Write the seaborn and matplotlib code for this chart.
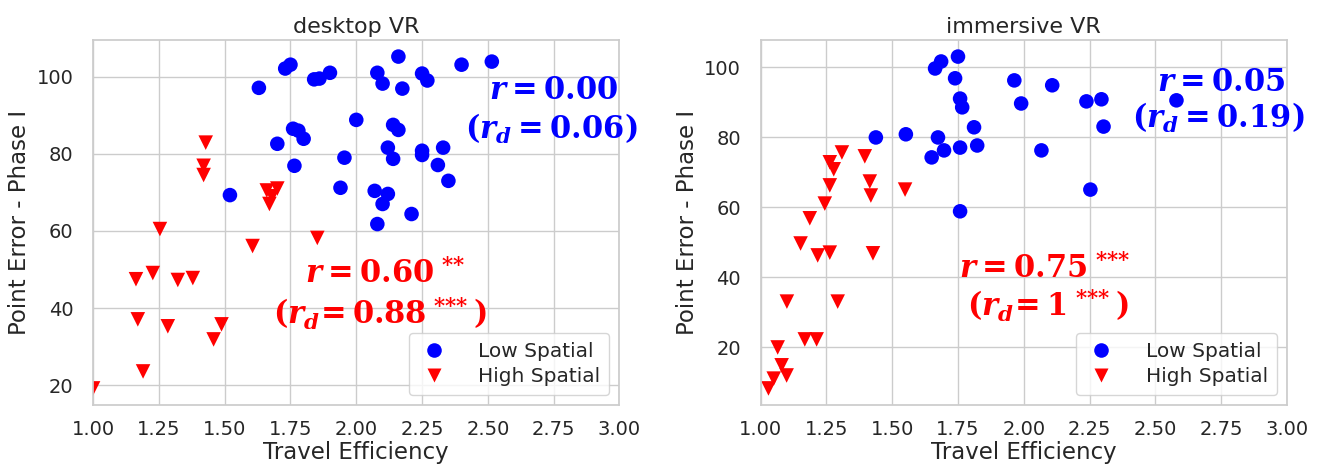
import seaborn as sns
import pandas as pd
import matplotlib.pyplot as plt

# ---------------------------------------------------------------
# data
desk_low_x = [1.52, 1.63, 1.70, 1.73, 1.75, 1.76, 1.765, 1.78, 1.80, 1.84, 1.86, 1.90,
              1.94, 1.955, 2.00, 2.07, 2.08, 2.08, 2.10, 2.10, 2.12, 2.12, 2.14, 2.14,
              2.16, 2.16, 2.175, 2.21, 2.25, 2.25, 2.25, 2.27, 2.31, 2.33, 2.35, 2.40, 2.515]
desk_low_y = [69.3, 97.1, 82.6, 102.1, 103.1, 86.5, 76.9, 86.0, 83.9, 99.3, 99.5, 101.0,
              71.2, 79.0, 88.8, 70.4, 101.0, 61.8, 98.2, 67.0, 69.6, 81.6, 87.5, 78.7,
              86.2, 105.2, 96.9, 64.4, 100.8, 80.8, 79.7, 99.0, 77.1, 81.6, 73.0, 103.1, 103.9]
desk_high_x = [1.428, 1.42, 1.42, 1.66, 1.70, 1.67, 1.68, 1.254, 1.606, 1.852, 1.163, 1.227,
               1.322, 1.379, 1.17, 1.284, 1.488, 1.458, 1.19, 1.0]
desk_high_y = [82.9, 76.9, 74.5, 70.5, 71.0, 67.0, 69.0, 60.5, 56.1, 58.2, 47.5, 49.1,
               47.3, 47.8, 37.1, 35.3, 35.8, 31.9, 23.6, 19.2]

imm_low_x = [1.75, 1.686, 1.663, 1.739, 1.758, 1.766, 1.964, 1.99, 1.811, 1.438, 1.552, 1.674,
             1.697, 1.65, 1.758, 1.823, 1.758, 2.108, 2.238, 2.295, 2.303, 2.58, 2.067, 2.253]
imm_low_y = [103.1, 101.7, 99.7, 96.9, 91.1, 88.6, 96.3, 89.7, 82.9, 80.0, 80.9, 80.0,
             76.3, 74.3, 77.1, 77.7, 58.9, 94.9, 90.3, 90.9, 83.1, 90.6, 76.3, 65.1]
imm_high_x = [1.309, 1.396, 1.263, 1.278, 1.263, 1.415, 1.419, 1.549, 1.244, 1.187, 1.152,
              1.217, 1.263, 1.427, 1.10, 1.293, 1.168, 1.213, 1.065, 1.08, 1.099, 1.05, 1.03]
imm_high_y = [75.7, 74.6, 72.9, 70.9, 66.3, 67.4, 63.4, 65.1, 61.1, 56.9, 49.7,
              46.3, 47.1, 46.9, 33.1, 33.1, 22.3, 22.3, 20.0, 14.9, 12.0, 11.1, 8.3]

groups = ['Low Spatial', 'High Spatial']
titles = ['desktop VR', 'immersive VR']

# correlation labels (text, x, y, colour)
desk_notes = [(r'$\mathit{r} = 0.00$', 2.75, 96.4, 'blue'),
              (r'$(\mathit{r_d} = 0.06)$', 2.74, 86.5, 'blue'),
              (r'$\mathit{r} = 0.60^{\ \text{**}}$', 2.11, 49.1, 'red'),
              (r'$(\mathit{r_d}\!= 0.88^{\ \text{***}}\,)$', 2.09, 38.7, 'red')]
imm_notes = [(r'$\mathit{r} = 0.05$', 2.75, 95.7, 'blue'),
             (r'$(\mathit{r_d} = 0.19)$', 2.74, 85.7, 'blue'),
             (r'$\mathit{r} = 0.75^{\ \text{***}}$', 2.08, 42.6, 'red'),
             (r'$(\mathit{r_d}\!= 1^{\ \text{***}}\,)$', 2.09, 32.0, 'red')]


def make_df(lx, ly, hx, hy):
    return pd.DataFrame({
        'x': lx + hx,
        'y': ly + hy,
        'group': [groups[0]] * len(lx) + [groups[1]] * len(hx),
    })


dfs = [make_df(desk_low_x, desk_low_y, desk_high_x, desk_high_y),
       make_df(imm_low_x, imm_low_y, imm_high_x, imm_high_y)]
notes = [desk_notes, imm_notes]

# ---------------------------------------------------------------
sns.set_theme(style='whitegrid')
plt.rcParams['font.family'] = ['DejaVu Sans']
plt.rcParams['mathtext.fontset'] = 'custom'
plt.rcParams['mathtext.rm'] = 'DejaVu Serif:bold'
plt.rcParams['mathtext.bf'] = 'DejaVu Serif:bold'
plt.rcParams['mathtext.it'] = 'DejaVu Serif:italic:bold'

fig, axes = plt.subplots(1, 2, figsize=(13.2, 4.65), dpi=100)
fig.subplots_adjust(left=0.0705, right=0.975, bottom=0.129, top=0.914, wspace=0.268)

for ax, df, title, nt in zip(axes, dfs, titles, notes):
    sns.scatterplot(data=df, x='x', y='y', hue='group', style='group',
                    palette={'Low Spatial': 'blue', 'High Spatial': 'red'},
                    markers={'Low Spatial': 'o', 'High Spatial': 'v'},
                    s=110, edgecolor='none', ax=ax)
    ax.set_xlim(1.0, 3.0)
    ax.set_xticks([1.0, 1.25, 1.5, 1.75, 2.0, 2.25, 2.5, 2.75, 3.0])
    ax.set_yticks([20, 40, 60, 80, 100])
    ax.tick_params(axis='x', labelsize=14, pad=5)
    ax.tick_params(axis='y', labelsize=14, pad=8)
    ax.set_title(title, fontsize=16, pad=5)
    ax.set_xlabel('Travel Efficiency', fontsize=16.5, labelpad=1)
    ax.set_ylabel('Point Error - Phase I', fontsize=16.5, labelpad=4)
    for txt, tx, ty, c in nt:
        ax.text(tx, ty, txt, color=c, fontsize=22, ha='center', va='center')
    leg = ax.legend(loc='lower right', fontsize=14.5, markerscale=1.0,
                    handletextpad=1.4, borderpad=0.45, labelspacing=0.3,
                    handlelength=1.6)
    leg.set_title(None)

fig.savefig('out.png', dpi=100)
